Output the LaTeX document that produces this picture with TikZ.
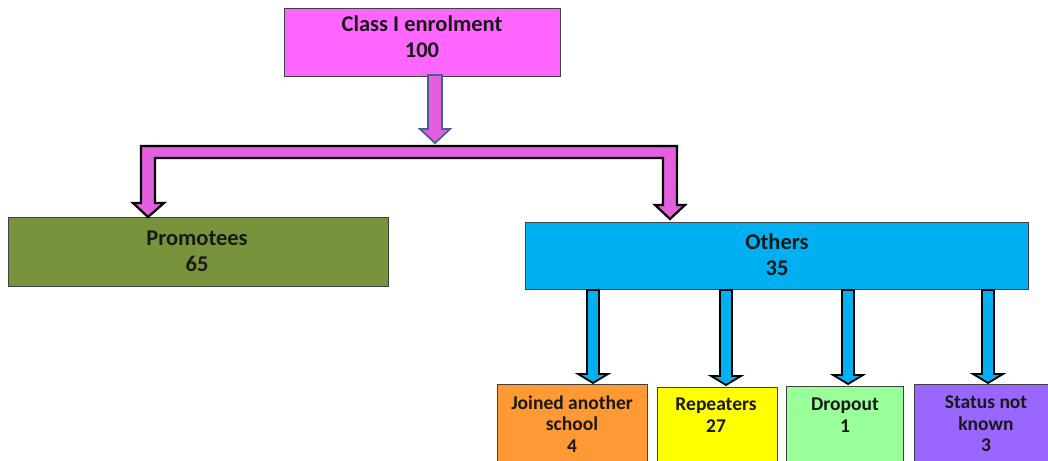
\documentclass[tikz,border=0pt]{standalone}
\usepackage{fontspec}
\setmainfont{Carlito}
\usetikzlibrary{calc}
\definecolor{topc}{HTML}{FF66FF}
\definecolor{pinkarr}{HTML}{E35FE0}
\definecolor{toparrline}{HTML}{41628E}
\definecolor{promc}{HTML}{77933C}
\definecolor{othc}{HTML}{00B0F0}
\definecolor{orc}{HTML}{FF9933}
\definecolor{yec}{HTML}{FFFF00}
\definecolor{grc}{HTML}{99FF99}
\definecolor{puc}{HTML}{9966FF}
\definecolor{boxline}{HTML}{404040}
\begin{document}
\begin{tikzpicture}[x=1pt,y=-1pt,
  box/.style={draw=boxline, line width=0.9pt, inner sep=0pt, anchor=north west},
  bigtxt/.style={font=\bfseries\fontsize{22.5}{26}\selectfont, align=center, inner sep=0pt, text=black!90},
  smalltxt/.style={font=\bfseries\fontsize{19.5}{21.5}\selectfont, align=center, inner sep=0pt, text=black!90},
  pinkblock/.style={fill=pinkarr, draw=black, line width=2.2pt, line join=miter},
  topblock/.style={fill=pinkarr, draw=toparrline, line width=1.8pt, line join=miter},
  blueblock/.style={fill=othc, draw=black, line width=1.8pt, line join=miter}]
\useasboundingbox (0,0) rectangle (1048,460);
\clip (0,0) rectangle (1048,460);
% boxes
\node[box, fill=topc, minimum width=276pt, minimum height=68pt] (enrol) at (284,8) {};
\node[box, fill=promc, minimum width=380pt, minimum height=69pt] (prom) at (8,217) {};
\node[box, fill=othc, minimum width=503pt, minimum height=67pt] (oth) at (525,222) {};
\node[box, fill=orc, minimum width=150pt, minimum height=90pt] (join) at (497,384) {};
\node[box, fill=yec, minimum width=120pt, minimum height=90pt] (rep) at (657,387) {};
\node[box, fill=grc, minimum width=117pt, minimum height=90pt] (drop) at (786,386) {};
\node[box, fill=puc, minimum width=150pt, minimum height=90pt] (stat) at (914,384) {};
% texts
\node[bigtxt] (enrolT) at (422,37) {Class I enrolment\\100};
\node[bigtxt] (promT) at (197,251) {Promotees\\65};
\node[bigtxt] (othT) at (777,255) {Others\\35};
\node[smalltxt] (joinT) at (572,424) {Joined another\\school\\4};
\node[smalltxt] (repT) at (716,415) {Repeaters\\27};
\node[smalltxt] (dropT) at (845,415) {Dropout\\1};
\node[smalltxt] (statT) at (986,424) {Status not\\known\\3};
% top block arrow
\draw[topblock] (428,75) -- (442,75) -- (442,129) -- (450,129) -- (435,143)
  -- (420,129) -- (428,129) -- cycle;
% elbow block arrow
\draw[pinkblock] (141,146) -- (677,146) -- (677,205) -- (685,205) -- (670,219)
  -- (655,205) -- (663,205) -- (663,158) -- (155,158) -- (155,203) -- (164,203)
  -- (148,217) -- (133,203) -- (141,203) -- cycle;
% blue block arrows
\foreach \cx/\tip in {593/383, 726/385, 848/384, 988/383}{
  \draw[blueblock] (\cx-6,290) -- (\cx+6,290) -- (\cx+6,\tip-9) -- (\cx+15,\tip-9)
    -- (\cx,\tip) -- (\cx-15,\tip-9) -- (\cx-6,\tip-9) -- cycle;
}
\end{tikzpicture}
\end{document}
